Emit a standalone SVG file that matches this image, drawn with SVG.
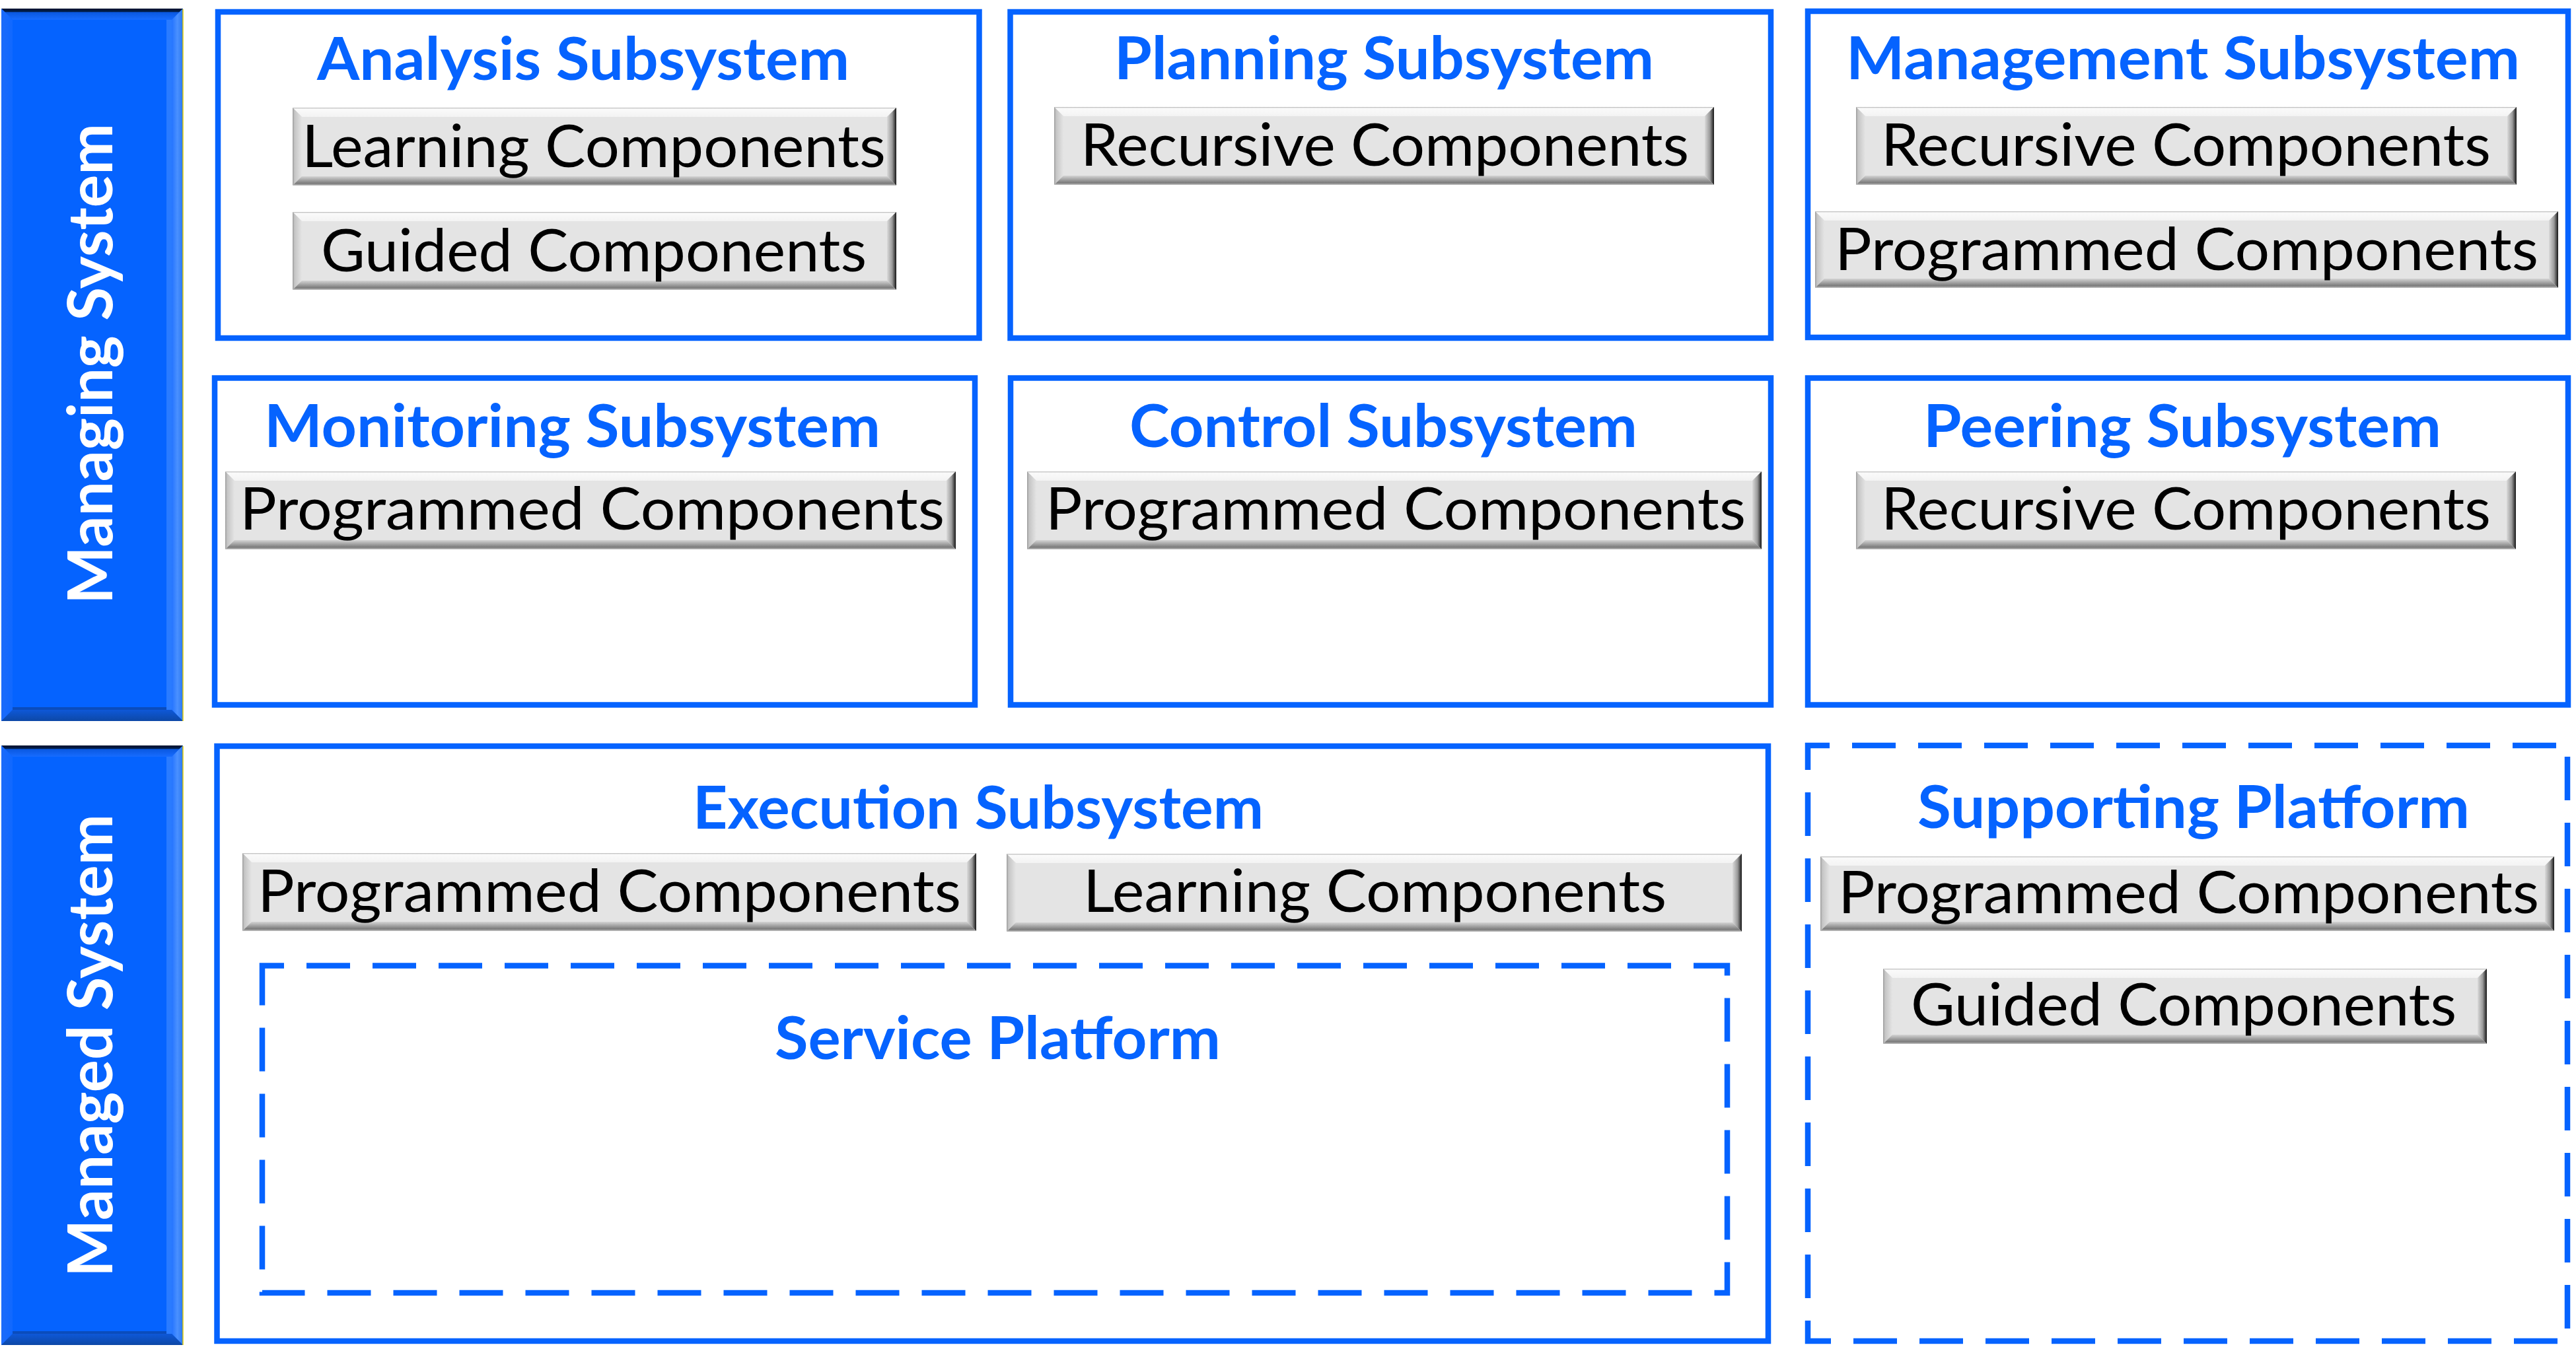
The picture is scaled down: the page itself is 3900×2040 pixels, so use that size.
<svg xmlns="http://www.w3.org/2000/svg" width="3900" height="2040" viewBox="0 0 3900 2040">
<defs>
<linearGradient id="gBtnTop" x1="0" y1="0" x2="0" y2="1"><stop offset="0" stop-color="#B4B4B4"/><stop offset="0.15" stop-color="#FAFAFA"/><stop offset="1" stop-color="#F3F3F3"/></linearGradient>
<linearGradient id="gBtnLeft" x1="0" y1="0" x2="1" y2="0"><stop offset="0" stop-color="#9A9A9A"/><stop offset="0.2" stop-color="#C4C4C4"/><stop offset="1" stop-color="#E4E4E4"/></linearGradient>
<linearGradient id="gBtnRight" x1="0" y1="0" x2="1" y2="0"><stop offset="0" stop-color="#DADADA"/><stop offset="0.55" stop-color="#9A9A9A"/><stop offset="0.88" stop-color="#3A3A3A"/><stop offset="1" stop-color="#151515"/></linearGradient>
<linearGradient id="gBtnBottom" x1="0" y1="0" x2="0" y2="1"><stop offset="0" stop-color="#D4D4D4"/><stop offset="0.45" stop-color="#A0A0A0"/><stop offset="0.78" stop-color="#7A7A7A"/><stop offset="1" stop-color="#C4C4C4"/></linearGradient>
<linearGradient id="gBarTop" x1="0" y1="0" x2="0" y2="1"><stop offset="0" stop-color="#00102C"/><stop offset="0.28" stop-color="#02204F"/><stop offset="0.34" stop-color="#0A58E0"/><stop offset="1" stop-color="#176CFF"/></linearGradient>
<linearGradient id="gBarLeft" x1="0" y1="0" x2="1" y2="0"><stop offset="0" stop-color="#1C6BFA"/><stop offset="1" stop-color="#1068FF"/></linearGradient>
<linearGradient id="gBarRight" x1="0" y1="0" x2="1" y2="0"><stop offset="0" stop-color="#2474FF"/><stop offset="0.5" stop-color="#4A90FF"/><stop offset="1" stop-color="#2C78F0"/></linearGradient>
<linearGradient id="gBarBottom" x1="0" y1="0" x2="0" y2="1"><stop offset="0" stop-color="#0E58D8"/><stop offset="1" stop-color="#0D48A6"/></linearGradient>
<style>
.box{fill:#FFFFFF;stroke:#0563FF;stroke-width:8.5}
.dash{fill:none;stroke:#0563FF;stroke-width:8.5;stroke-dasharray:66 34}
.face{fill:#E4E4E4}
.bt{fill:url(#gBtnTop)}
.bl{fill:url(#gBtnLeft)}
.br{fill:url(#gBtnRight)}
.bb{fill:url(#gBtnBottom)}
.btxt{font-family:Lato,"Open Sans","Liberation Sans",sans-serif;font-size:89px;fill:#000000}
.title{font-family:Lato,"Open Sans","Liberation Sans",sans-serif;font-size:89px;font-weight:bold;fill:#0563FF}
.barface{fill:#0563FF}
.xt{fill:url(#gBarTop)}
.xl{fill:url(#gBarLeft)}
.xr{fill:url(#gBarRight)}
.xb{fill:url(#gBarBottom)}
.bartxt{font-family:Lato,"Open Sans","Liberation Sans",sans-serif;font-size:93px;font-weight:bold;fill:#FFFFFF}
</style>
</defs>
<rect width="3900" height="2040" fill="#FFFFFF"/>

<g id="bar-managing">
<rect class="barface" x="2" y="13" width="275" height="1079"/>
<polygon class="xt" points="2,13 277,13 260,30 19,30"/>
<polygon class="xl" points="2,13 19,30 19,1075 2,1092"/>
<polygon class="xr" points="277,13 277,1092 260,1075 260,30"/>
<polygon class="xb" points="2,1092 19,1075 260,1075 277,1092"/>
<rect x="19" y="1071" width="241" height="4" fill="#0A4CBC"/>
<rect x="252" y="30" width="8" height="1045" fill="#2A7BFF"/>
<line x1="277" y1="14" x2="277" y2="1092" stroke="#E3CC00" stroke-width="1.5"/>
<text class="bartxt" transform="translate(170,551) rotate(-90)" text-anchor="middle" textLength="728" lengthAdjust="spacingAndGlyphs">Managing System</text>
</g>

<g id="bar-managed">
<rect class="barface" x="2" y="1129" width="275" height="908"/>
<polygon class="xt" points="2,1129 277,1129 260,1146 19,1146"/>
<polygon class="xl" points="2,1129 19,1146 19,2020 2,2037"/>
<polygon class="xr" points="277,1129 277,2037 260,2020 260,1146"/>
<polygon class="xb" points="2,2037 19,2020 260,2020 277,2037"/>
<rect x="19" y="2016" width="241" height="4" fill="#0A4CBC"/>
<rect x="252" y="1146" width="8" height="874" fill="#2A7BFF"/>
<line x1="277" y1="1130" x2="277" y2="2037" stroke="#E3CC00" stroke-width="1.5"/>
<text class="bartxt" transform="translate(170,1583.5) rotate(-90)" text-anchor="middle" textLength="701" lengthAdjust="spacingAndGlyphs">Managed System</text>
</g>

<g id="node-analysis">
<rect class="box" x="330" y="18" width="1152.5" height="494"/>
<text class="title" x="480" y="121" textLength="806" lengthAdjust="spacingAndGlyphs">Analysis Subsystem</text>
<g id="analysis-learning">
<rect class="face" x="443" y="163" width="914" height="118"/>
<polygon class="bt" points="443,163 1357,163 1343,177 457,177"/>
<polygon class="bl" points="443,163 457,177 457,267 443,281"/>
<polygon class="br" points="1357,163 1357,281 1343,267 1343,177"/>
<polygon class="bb" points="443,281 457,267 1343,267 1357,281"/>
<text class="btxt" x="457" y="253" textLength="884" lengthAdjust="spacingAndGlyphs">Learning Components</text>
</g>
<g id="analysis-guided">
<rect class="face" x="443" y="321" width="914" height="118"/>
<polygon class="bt" points="443,321 1357,321 1343,335 457,335"/>
<polygon class="bl" points="443,321 457,335 457,425 443,439"/>
<polygon class="br" points="1357,321 1357,439 1343,425 1343,335"/>
<polygon class="bb" points="443,439 457,425 1343,425 1357,439"/>
<text class="btxt" x="486" y="411" textLength="826" lengthAdjust="spacingAndGlyphs">Guided Components</text>
</g>
</g>

<g id="node-planning">
<rect class="box" x="1529.5" y="18" width="1151.5" height="494"/>
<text class="title" x="1687" y="120" textLength="817" lengthAdjust="spacingAndGlyphs">Planning Subsystem</text>
<g id="planning-recursive">
<rect class="face" x="1596" y="162" width="999" height="118"/>
<polygon class="bt" points="1596,162 2595,162 2581,176 1610,176"/>
<polygon class="bl" points="1596,162 1610,176 1610,266 1596,280"/>
<polygon class="br" points="2595,162 2595,280 2581,266 2581,176"/>
<polygon class="bb" points="1596,280 1610,266 2581,266 2595,280"/>
<text class="btxt" x="1636" y="251" textLength="921" lengthAdjust="spacingAndGlyphs">Recursive Components</text>
</g>
</g>

<g id="node-management">
<rect class="box" x="2737" y="17" width="1151" height="494"/>
<text class="title" x="2795" y="120" textLength="1020" lengthAdjust="spacingAndGlyphs">Management Subsystem</text>
<g id="management-recursive">
<rect class="face" x="2810" y="162" width="1000" height="118"/>
<polygon class="bt" points="2810,162 3810,162 3796,176 2824,176"/>
<polygon class="bl" points="2810,162 2824,176 2824,266 2810,280"/>
<polygon class="br" points="3810,162 3810,280 3796,266 3796,176"/>
<polygon class="bb" points="2810,280 2824,266 3796,266 3810,280"/>
<text class="btxt" x="2848" y="251" textLength="923" lengthAdjust="spacingAndGlyphs">Recursive Components</text>
</g>
<g id="management-programmed">
<rect class="face" x="2748" y="320" width="1125" height="116"/>
<polygon class="bt" points="2748,320 3873,320 3859,334 2762,334"/>
<polygon class="bl" points="2748,320 2762,334 2762,422 2748,436"/>
<polygon class="br" points="3873,320 3873,436 3859,422 3859,334"/>
<polygon class="bb" points="2748,436 2762,422 3859,422 3873,436"/>
<text class="btxt" x="2778" y="409" textLength="1065" lengthAdjust="spacingAndGlyphs">Programmed Components</text>
</g>
</g>

<g id="node-monitoring">
<rect class="box" x="325" y="572.5" width="1151" height="495"/>
<text class="title" x="400" y="677" textLength="933" lengthAdjust="spacingAndGlyphs">Monitoring Subsystem</text>
<g id="monitoring-programmed">
<rect class="face" x="341" y="714" width="1106" height="118"/>
<polygon class="bt" points="341,714 1447,714 1433,728 355,728"/>
<polygon class="bl" points="341,714 355,728 355,818 341,832"/>
<polygon class="br" points="1447,714 1447,832 1433,818 1433,728"/>
<polygon class="bb" points="341,832 355,818 1433,818 1447,832"/>
<text class="btxt" x="363" y="802" textLength="1067" lengthAdjust="spacingAndGlyphs">Programmed Components</text>
</g>
</g>

<g id="node-control">
<rect class="box" x="1530" y="572.5" width="1151" height="495"/>
<text class="title" x="1710" y="677" textLength="769" lengthAdjust="spacingAndGlyphs">Control Subsystem</text>
<g id="control-programmed">
<rect class="face" x="1555" y="714" width="1112" height="118"/>
<polygon class="bt" points="1555,714 2667,714 2653,728 1569,728"/>
<polygon class="bl" points="1555,714 1569,728 1569,818 1555,832"/>
<polygon class="br" points="2667,714 2667,832 2653,818 2653,728"/>
<polygon class="bb" points="1555,832 1569,818 2653,818 2667,832"/>
<text class="btxt" x="1583" y="802" textLength="1060" lengthAdjust="spacingAndGlyphs">Programmed Components</text>
</g>
</g>

<g id="node-peering">
<rect class="box" x="2737" y="572.5" width="1151" height="495"/>
<text class="title" x="2912" y="677" textLength="784" lengthAdjust="spacingAndGlyphs">Peering Subsystem</text>
<g id="peering-recursive">
<rect class="face" x="2810" y="714" width="999" height="118"/>
<polygon class="bt" points="2810,714 3809,714 3795,728 2824,728"/>
<polygon class="bl" points="2810,714 2824,728 2824,818 2810,832"/>
<polygon class="br" points="3809,714 3809,832 3795,818 3795,728"/>
<polygon class="bb" points="2810,832 2824,818 3795,818 3809,832"/>
<text class="btxt" x="2848" y="802" textLength="923" lengthAdjust="spacingAndGlyphs">Recursive Components</text>
</g>
</g>

<g id="node-execution">
<rect class="box" x="328.5" y="1130" width="2348.5" height="901"/>
<text class="title" x="1049" y="1255" textLength="864" lengthAdjust="spacingAndGlyphs">Execution Subsystem</text>
<g id="execution-programmed">
<rect class="face" x="367" y="1292" width="1111" height="118"/>
<polygon class="bt" points="367,1292 1478,1292 1464,1306 381,1306"/>
<polygon class="bl" points="367,1292 381,1306 381,1396 367,1410"/>
<polygon class="br" points="1478,1292 1478,1410 1464,1396 1464,1306"/>
<polygon class="bb" points="367,1410 381,1396 1464,1396 1478,1410"/>
<text class="btxt" x="390" y="1381" textLength="1065" lengthAdjust="spacingAndGlyphs">Programmed Components</text>
</g>
<g id="execution-learning">
<rect class="face" x="1524" y="1293" width="1113" height="118"/>
<polygon class="bt" points="1524,1293 2637,1293 2623,1307 1538,1307"/>
<polygon class="bl" points="1524,1293 1538,1307 1538,1397 1524,1411"/>
<polygon class="br" points="2637,1293 2637,1411 2623,1397 2623,1307"/>
<polygon class="bb" points="1524,1411 1538,1397 2623,1397 2637,1411"/>
<text class="btxt" x="1640" y="1381" textLength="883" lengthAdjust="spacingAndGlyphs">Learning Components</text>
</g>
<g id="node-service-platform">
<rect class="dash" x="397" y="1462.5" width="2218" height="495.5" stroke-dashoffset="33"/>
<text class="title" x="1173" y="1604" textLength="675" lengthAdjust="spacingAndGlyphs">Service Platform</text>
</g>
</g>

<g id="node-supporting-platform">
<rect class="dash" x="2737" y="1129" width="1150" height="902" stroke-dashoffset="33"/>
<text class="title" x="2903" y="1254" textLength="836" lengthAdjust="spacingAndGlyphs">Supporting Platform</text>
<g id="supporting-programmed">
<rect class="face" x="2756" y="1297" width="1111" height="113"/>
<polygon class="bt" points="2756,1297 3867,1297 3853,1311 2770,1311"/>
<polygon class="bl" points="2756,1297 2770,1311 2770,1396 2756,1410"/>
<polygon class="br" points="3867,1297 3867,1410 3853,1396 3853,1311"/>
<polygon class="bb" points="2756,1410 2770,1396 3853,1396 3867,1410"/>
<text class="btxt" x="2783" y="1383" textLength="1061" lengthAdjust="spacingAndGlyphs">Programmed Components</text>
</g>
<g id="supporting-guided">
<rect class="face" x="2851" y="1467" width="914" height="114"/>
<polygon class="bt" points="2851,1467 3765,1467 3751,1481 2865,1481"/>
<polygon class="bl" points="2851,1467 2865,1481 2865,1567 2851,1581"/>
<polygon class="br" points="3765,1467 3765,1581 3751,1567 3751,1481"/>
<polygon class="bb" points="2851,1581 2865,1567 3751,1567 3765,1581"/>
<text class="btxt" x="2893" y="1553" textLength="826" lengthAdjust="spacingAndGlyphs">Guided Components</text>
</g>
</g>

<g id="connectors"/>
</svg>
